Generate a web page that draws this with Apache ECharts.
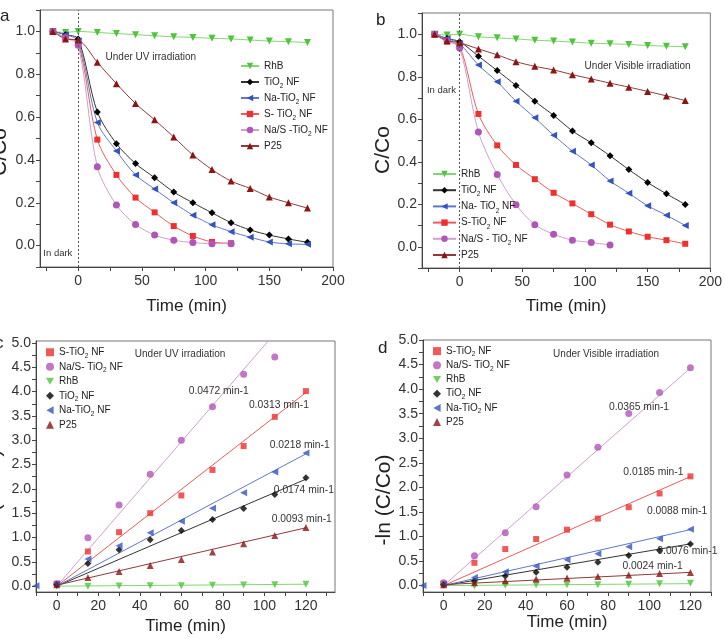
<!DOCTYPE html>
<html>
<head>
<meta charset="utf-8">
<script src="https://cdn.jsdelivr.net/npm/echarts@6/dist/echarts.min.js"></script>
<style>
  html, body { margin: 0; padding: 0; background: #fff; }
  #main { width: 725px; height: 639px; }
</style>
</head>
<body>
<div id="main"></div>
<script>
// time points (min)
var tAB = [-20, -10, 0, 15, 30, 45, 60, 75, 90, 105, 120, 135, 150, 165, 180];
var tCD = [0, 15, 30, 45, 60, 75, 90, 105, 120];

// panel a : C/Co under UV
var aRhB  = [1.0, 0.995, 1.0, 0.995, 0.99, 0.985, 0.98, 0.975, 0.972, 0.968, 0.965, 0.96, 0.955, 0.952, 0.948];
var aTiO2 = [1.0, 0.985, 0.965, 0.624, 0.476, 0.383, 0.317, 0.25, 0.2, 0.153, 0.107, 0.073, 0.049, 0.031, 0.015];
var aNa   = [1.0, 0.985, 0.955, 0.575, 0.442, 0.33, 0.264, 0.2, 0.142, 0.097, 0.065, 0.039, 0.017, 0.008, 0.006];
var aS    = [1.0, 0.97, 0.945, 0.495, 0.33, 0.224, 0.155, 0.091, 0.045, 0.017, 0.011];
var aNaS  = [1.0, 0.97, 0.935, 0.368, 0.189, 0.099, 0.049, 0.025, 0.014, 0.009, 0.009];
var aP25  = [1.0, 0.965, 0.96, 0.856, 0.756, 0.663, 0.587, 0.507, 0.423, 0.355, 0.301, 0.267, 0.227, 0.2, 0.175];

// panel b : C/Co under visible light
var bRhB  = [1.0, 0.997, 1.0, 0.988, 0.983, 0.978, 0.972, 0.968, 0.963, 0.958, 0.955, 0.952, 0.947, 0.944, 0.941];
var bTiO2 = [1.0, 0.98, 0.965, 0.897, 0.829, 0.759, 0.685, 0.618, 0.545, 0.489, 0.428, 0.363, 0.302, 0.249, 0.199];
var bNa   = [1.0, 0.98, 0.955, 0.855, 0.777, 0.685, 0.607, 0.525, 0.45, 0.385, 0.31, 0.252, 0.193, 0.148, 0.1];
var bS    = [1.0, 0.965, 0.945, 0.625, 0.477, 0.385, 0.318, 0.254, 0.204, 0.153, 0.104, 0.072, 0.047, 0.031, 0.014];
var bNaS  = [1.0, 0.97, 0.935, 0.54, 0.34, 0.198, 0.104, 0.059, 0.031, 0.02, 0.008];
var bP25  = [1.0, 0.97, 0.96, 0.931, 0.903, 0.871, 0.849, 0.832, 0.81, 0.79, 0.77, 0.751, 0.731, 0.71, 0.688];

// panel c : -ln(C/Co) under UV
var cS    = [0.05, 0.713, 1.11, 1.5, 1.865, 2.39, 2.88, 3.48, 4.01];
var cNaS  = [0.05, 0.995, 1.667, 2.3, 3.0, 3.69, 4.355, 4.71];
var cRhB  = [0.0, 0.0, 0.005, 0.01, 0.01, 0.02, 0.025, 0.03, 0.04];
var cTiO2 = [0.03, 0.466, 0.748, 0.953, 1.145, 1.372, 1.598, 1.886, 2.229];
var cNa   = [0.05, 0.556, 0.83, 1.1, 1.337, 1.6, 1.92, 2.346, 2.74];
var cP25  = [0.03, 0.178, 0.302, 0.425, 0.549, 0.7, 0.871, 1.042, 1.207];
var cFit  = { S: [0, 3.98], NaS: [0, 5.94], RhB: [0, 0.04], TiO2: [0, 2.2], Na: [0, 2.72], P25: [0.02, 1.2] };

// panel d : -ln(C/Co) under visible light
var dS    = [0.04, 0.464, 0.744, 0.948, 1.139, 1.364, 1.596, 1.876, 2.224];
var dNaS  = [0.06, 0.607, 1.078, 1.603, 2.25, 2.817, 3.506, 3.929, 4.434];
var dRhB  = [0.0, -0.01, 0.007, 0.014, 0.02, 0.02, 0.027, 0.04, 0.048];
var dTiO2 = [0.02, 0.095, 0.198, 0.273, 0.375, 0.477, 0.614, 0.716, 0.846];
var dNa   = [0.03, 0.164, 0.28, 0.396, 0.525, 0.648, 0.791, 0.955, 1.146];
var dP25  = [0.02, 0.06, 0.1, 0.136, 0.157, 0.184, 0.218, 0.246, 0.266];
var dFit  = { S: [0, 2.22], NaS: [0, 4.43], RhB: [0, 0.04], TiO2: [0, 0.85], Na: [0, 1.14], P25: [0.02, 0.27] };
var fitT  = [0, 120];

// rate constants (text, x, y in data units)
var rateC = [['0.0472 min-1', 78, 4.0], ['0.0313 min-1', 107, 3.72], ['0.0218 min-1', 117, 2.9], ['0.0174 min-1', 119, 1.97], ['0.0093 min-1', 118, 1.37]];
var rateD = [['0.0365 min-1', 95, 3.64], ['0.0185 min-1', 102, 2.31], ['0.0088 min-1', 113.5, 1.51], ['0.0076 min-1', 118.5, 0.695], ['0.0024 min-1', 101.6, 0.39]];

var legA = ['RhB', 'TiO2 NF', 'Na-TiO2 NF', 'S- TiO2 NF', 'Na/S -TiO2 NF', 'P25'];
var legB = ['RhB', 'TiO2 NF', 'Na- TiO2 NF', 'S-TiO2 NF', 'Na/S - TiO2 NF', 'P25'];
var legCD = ['S-TiO2 NF', 'Na/S- TiO2 NF', 'RhB', 'TiO2 NF', 'Na-TiO2 NF', 'P25'];
var keysAB = ['RhB', 'TiO2', 'Na', 'S', 'NaS', 'P25'];
var keysCD = ['S', 'NaS', 'RhB', 'TiO2', 'Na', 'P25'];

var sty = {
  RhB:  { sym: 'triangle', rot: 180, col: '#4fc43c', line: '#80d870', icon: 'path://M0,0L10,0L5,9Z' },
  TiO2: { sym: 'diamond', rot: 0, col: '#000000', line: '#333333', icon: 'diamond' },
  Na:   { sym: 'triangle', rot: 90, col: '#3452c0', line: '#5f78c8', icon: 'path://M9,0L9,10L0,5Z' },
  S:    { sym: 'rect', rot: 0, col: '#ee3030', line: '#ee5a5a', icon: 'rect' },
  NaS:  { sym: 'circle', rot: 0, col: '#b155b8', line: '#d0a0d0', icon: 'circle' },
  P25:  { sym: 'triangle', rot: 0, col: '#8b1414', line: '#8e3a3a', icon: 'triangle' }
};

var zip = function(xs, ys) {
  var res = [];
  for (var i = 0; i < ys.length; i++) res.push([xs[i], ys[i]]);
  return res;
};

var FONT = 'Liberation Sans';

var fmtName = function(name) {
  var s = name.split('|')[1];
  return s.split('TiO2').map(function(p) { return '{n|' + p + '}'; }).join('{n|TiO}{s|2}');
};
var richFor = function(lh) {
  return {
    n: { fontSize: 10, fontFamily: FONT, color: '#222', lineHeight: lh, verticalAlign: 'middle' },
    s: { fontSize: 6.5, fontFamily: FONT, color: '#222', lineHeight: 8, verticalAlign: 'bottom' }
  };
};

var series = [];

// a, b : smoothed curves with markers
var addCurves = function(p, idx, sets, labels) {
  keysAB.forEach(function(k, i) {
    series.push({
      name: p + '|' + labels[i],
      type: 'line',
      xAxisIndex: idx, yAxisIndex: idx,
      smooth: 0.3,
      symbol: sty[k].sym,
      symbolRotate: sty[k].rot,
      symbolSize: k === 'S' ? 6 : 7,
      itemStyle: { color: sty[k].col },
      lineStyle: { color: sty[k].line, width: 1 },
      data: zip(tAB, sets[k]),
      z: 3
    });
  });
};
addCurves('a', 0, { RhB: aRhB, TiO2: aTiO2, Na: aNa, S: aS, NaS: aNaS, P25: aP25 }, legA);
addCurves('b', 1, { RhB: bRhB, TiO2: bTiO2, Na: bNa, S: bS, NaS: bNaS, P25: bP25 }, legB);

// c, d : points and linear fits
var addFits = function(p, idx, sets, fits, extra) {
  keysCD.forEach(function(k, i) {
    var pts = zip(tCD, sets[k]);
    if (k === 'Na') pts.unshift([-10, extra]);
    series.push({
      name: p + '|' + legCD[i],
      type: 'scatter',
      xAxisIndex: idx, yAxisIndex: idx,
      symbol: sty[k].sym,
      symbolRotate: sty[k].rot,
      symbolSize: k === 'S' ? 6 : 7,
      itemStyle: { color: sty[k].col },
      data: pts,
      z: 4
    });
    series.push({
      name: p + '-fit-' + k,
      type: 'line',
      xAxisIndex: idx, yAxisIndex: idx,
      showSymbol: false,
      lineStyle: { color: sty[k].line, width: 1 },
      data: zip(fitT, fits[k]),
      z: 2
    });
  });
};
addFits('c', 2, { S: cS, NaS: cNaS, RhB: cRhB, TiO2: cTiO2, Na: cNa, P25: cP25 }, cFit, 0.01);
addFits('d', 3, { S: dS, NaS: dNaS, RhB: dRhB, TiO2: dTiO2, Na: dNa, P25: dP25 }, dFit, 0.0);

var textPoint = function(txt, x, y, size) {
  return {
    coord: [x, y], symbol: 'circle', symbolSize: 1,
    itemStyle: { color: 'rgba(0,0,0,0)' },
    label: { show: true, position: 'inside', formatter: txt, color: '#333', fontSize: size, fontFamily: FONT }
  };
};

// annotations + dotted line at t = 0 for a and b
var notes = function(idx, items, dashed) {
  var s = {
    type: 'line', xAxisIndex: idx, yAxisIndex: idx, data: [], silent: true,
    markPoint: { data: items.map(function(it) { return textPoint(it[0], it[1], it[2], it[3]); }) }
  };
  if (dashed) {
    s.markLine = {
      symbol: 'none', silent: true, label: { show: false },
      lineStyle: { color: '#555', type: [2, 2], width: 1 },
      data: [{ xAxis: 0 }]
    };
  }
  series.push(s);
};
notes(0, [['Under UV irradiation', 57, 0.88, 10], ['In dark', -16, -0.035, 9.5]], true);
notes(1, [['Under Visible irradiation', 142, 0.85, 10], ['In dark', -14.5, 0.735, 9.5]], true);
notes(2, [['Under UV irradiation', 59.4, 4.77, 10]].concat(rateC.map(function(r) { return [r[0], r[1], r[2], 10.3]; })), false);
notes(3, [['Under Visible irradiation', 79, 4.72, 10]].concat(rateD.map(function(r) { return [r[0], r[1], r[2], 10.3]; })), false);

var range = function(a, b, step) {
  var res = [];
  for (var v = a; v <= b + 1e-9; v += step) res.push(Math.round(v * 1000) / 1000);
  return res;
};

var xAxis = function(idx, min, max, labels, ticks, gap) {
  return {
    type: 'value', gridIndex: idx, min: min, max: max,
    name: 'Time (min)', nameLocation: 'middle', nameGap: gap,
    nameTextStyle: { fontSize: 17, fontFamily: FONT, color: '#222' },
    axisLine: { onZero: false, lineStyle: { color: '#444' } },
    axisTick: { customValues: ticks, length: 4, lineStyle: { color: '#444' } },
    axisLabel: { customValues: labels, fontSize: 14, fontFamily: FONT, color: '#333', margin: 7 },
    splitLine: { show: false }
  };
};
var yAxis = function(idx, min, max, labels, ticks) {
  return {
    type: 'value', gridIndex: idx, min: min, max: max,
    axisLine: { onZero: false, lineStyle: { color: '#444' } },
    axisTick: { customValues: ticks, length: 4, lineStyle: { color: '#444' } },
    axisLabel: {
      customValues: labels, fontSize: 14, fontFamily: FONT, color: '#333', margin: 5,
      formatter: function(v) { return v.toFixed(1); }
    },
    splitLine: { show: false }
  };
};

var legend = function(p, names, keys, left, top, lh, gap, w, useIcon) {
  return {
    orient: 'vertical', left: left, top: top, itemGap: gap,
    itemWidth: w, itemHeight: 8, padding: 0,
    data: names.map(function(n, i) {
      var item = { name: p + '|' + n };
      if (useIcon) item.icon = sty[keys[i]].icon;
      return item;
    }),
    formatter: fmtName,
    textStyle: { fontSize: 10, lineHeight: lh, rich: richFor(lh) }
  };
};

var yText = function(txt, x, y) {
  return {
    type: 'text', x: x, y: y, rotation: Math.PI / 2,
    style: { text: txt, fontSize: 21, fontFamily: FONT, fill: '#222', textAlign: 'center', textVerticalAlign: 'middle' }
  };
};
var letter = function(txt, x, y) {
  return { type: 'text', x: x, y: y, style: { text: txt, fontSize: 17, fontFamily: FONT, fill: '#222', textAlign: 'left', textVerticalAlign: 'middle' } };
};

var option = {
  animation: false,
  backgroundColor: '#fff',
  grid: [
    { left: 40, top: 10, width: 293, height: 257, show: true, borderColor: '#777', borderWidth: 1 },
    { left: 422, top: 13, width: 290, height: 255, show: true, borderColor: '#777', borderWidth: 1 },
    { left: 36, top: 341, width: 299, height: 251, show: true, borderColor: '#777', borderWidth: 1 },
    { left: 423, top: 340, width: 288, height: 252, show: true, borderColor: '#777', borderWidth: 1 }
  ],
  xAxis: [
    xAxis(0, -30, 200, range(0, 200, 50), range(-25, 200, 25), 31),
    xAxis(1, -30, 200, range(0, 200, 50), range(-25, 200, 25), 30),
    xAxis(2, -10, 134, range(0, 120, 20), range(-10, 130, 10), 26),
    xAxis(3, -10, 130, range(0, 120, 20), range(-10, 130, 10), 22)
  ],
  yAxis: [
    yAxis(0, -0.1, 1.1, range(0, 1, 0.2), range(-0.1, 1.1, 0.1)),
    yAxis(1, -0.1, 1.1, range(0, 1, 0.2), range(-0.1, 1.1, 0.1)),
    yAxis(2, -0.12, 5.04, range(0, 5, 0.5), range(0, 5, 0.25)),
    yAxis(3, -0.13, 5.0, range(0, 5, 0.5), range(0, 5, 0.25))
  ],
  legend: [
    legend('a', legA, keysAB, 240, 58, 16, 0, 18, false),
    legend('b', legB, keysAB, 432, 166, 16, 0.2, 23, false),
    legend('c', legCD, keysCD, 46, 345, 14.5, 0, 8, true),
    legend('d', legCD, keysCD, 433, 344, 14.2, 0, 8, true)
  ],
  graphic: [
    yText('C/Co', 0, 152),
    yText('C/Co', 383, 150),
    yText('-ln (C/Co)', -6, 495),
    yText('-ln (C/Co)', 384, 500),
    letter('a', 0, 16),
    letter('b', 376, 20),
    letter('c', -5, 343),
    letter('d', 378, 348)
  ],
  series: series
};

var myChart = echarts.init(document.getElementById('main'));
myChart.setOption(option);
</script>
</body>
</html>
